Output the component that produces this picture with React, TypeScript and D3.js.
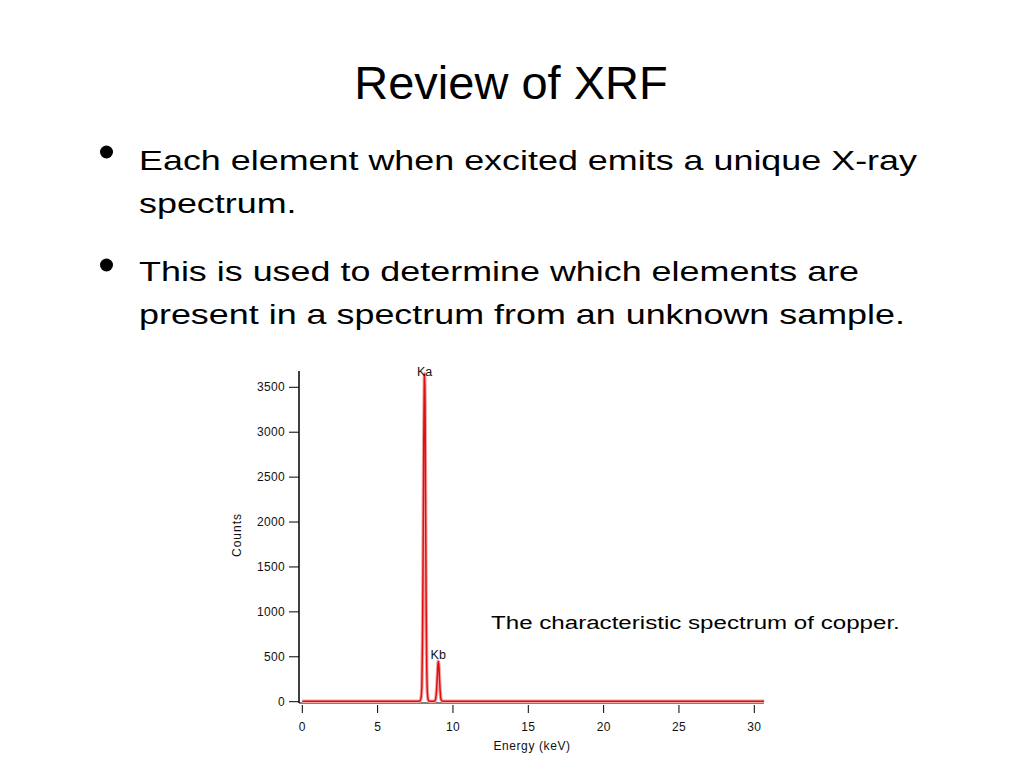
import React from "react";
import * as d3 from "d3";

const title = "Review of XRF";
const bullets = [
  ["Each element when excited emits a unique X-ray", "spectrum."],
  ["This is used to determine which elements are", "present in a spectrum from an unknown sample."],
];
const caption = "The characteristic spectrum of copper.";

const xTicks = [0, 5, 10, 15, 20, 25, 30];
const yTicks = [0, 500, 1000, 1500, 2000, 2500, 3000, 3500];

// Spectrum: energy (keV), counts
const energy = [
  0, 2, 4, 6, 7.6, 7.8, 7.88, 7.94, 7.98, 8.02, 8.06, 8.1, 8.12, 8.15, 8.18, 8.22, 8.26, 8.3, 8.36, 8.45,
  8.7, 8.8, 8.86, 8.92, 8.97, 9.02, 9.06, 9.1, 9.15, 9.2, 9.3, 9.6, 12, 16, 20, 24, 28, 30.65,
];
const counts = [
  4, 4, 4, 4, 4, 8, 40, 200, 700, 1700, 2900, 3600, 3650, 3300, 2300, 1100, 380, 110, 20, 4,
  4, 10, 40, 150, 310, 450, 420, 280, 120, 30, 6, 4, 4, 4, 4, 4, 4, 4,
];

const peakLabels = [
  { name: "Ka", e: 8.12, c: 3650, dy: 2 },
  { name: "Kb", e: 9.02, c: 450, dy: -2 },
];

export default function App() {
  const x = d3.scaleLinear().domain([0, 30]).range([302.3, 754.3]);
  const y = d3.scaleLinear().domain([0, 3500]).range([701.7, 387.3]);
  const pts: [number, number][] = energy.map((e, i) => [e, counts[i]]);
  const line = d3
    .line<[number, number]>()
    .x((d) => x(d[0]))
    .y((d) => y(d[1]))
    .curve(d3.curveMonotoneX);
  const path = line(pts) || "";
  const font = "Liberation Sans, Arial, sans-serif";
  const axisFont = { fontSize: 12, letterSpacing: 0.3, fill: "#111" } as const;
  return (
    <svg width={1024} height={768} style={{ position: "absolute", left: 0, top: 0, background: "#fff" }} fontFamily={font}>
      <rect x={0} y={0} width={1024} height={768} fill="#fff" />
      <text x={511} y={99} textAnchor="middle" fontSize={47} fill="#000">{title}</text>
      {bullets.map((b, i) => (
        <g key={i}>
          <circle cx={106.5} cy={152 + i * 113} r={6.5} fill="#000" />
          {b.map((l, j) => (
            <text key={j} transform={`translate(139,${170 + i * 111 + j * 43}) scale(1.305,1)`} fontSize={27.5} fill="#000">{l}</text>
          ))}
        </g>
      ))}
      {/* axes */}
      <line x1={299} x2={299} y1={371} y2={703} stroke="#000" strokeWidth={1.5} />
      {yTicks.map((t) => (
        <g key={t}>
          <line x1={289} x2={299} y1={y(t)} y2={y(t)} stroke="#000" strokeWidth={1} />
          <text x={285} y={y(t) + 4} textAnchor="end" {...axisFont}>{t}</text>
        </g>
      ))}
      <line x1={299} x2={764} y1={703} y2={703} stroke="#000" strokeWidth={1} />
      {xTicks.map((t) => (
        <g key={t}>
          <line x1={x(t)} x2={x(t)} y1={705} y2={713} stroke="#000" strokeWidth={1} />
          <text x={x(t)} y={731} textAnchor="middle" {...axisFont}>{t}</text>
        </g>
      ))}
      <text transform={`translate(241,535) rotate(-90)`} textAnchor="middle" {...axisFont} letterSpacing={1}>Counts</text>
      <text x={532} y={750} textAnchor="middle" {...axisFont} letterSpacing={0.6}>Energy (keV)</text>
      {/* spectrum */}
      <path d={path} fill="none" stroke="#f3a6a6" strokeWidth={3.5} strokeLinejoin="round" />
      <path d={path} fill="none" stroke="#dd1111" strokeWidth={1.5} strokeLinejoin="round" />
      {peakLabels.map((p) => (
        <text key={p.name} x={x(p.e)} y={y(p.c) + p.dy} textAnchor="middle" fontSize={12.5} fill="#111">{p.name}</text>
      ))}
      <text transform="translate(491,629) scale(1.27,1)" fontSize={19} fill="#000">{caption}</text>
    </svg>
  );
}
